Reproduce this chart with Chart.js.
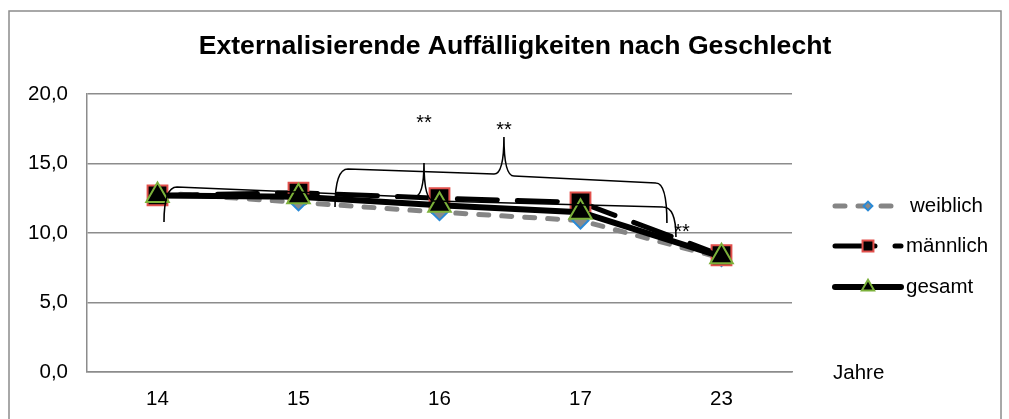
<!DOCTYPE html>
<html>
<head>
<meta charset="utf-8">
<script src="https://cdn.jsdelivr.net/npm/chart.js@4.4.1/dist/chart.umd.min.js"></script>
<style>
  html, body { margin: 0; padding: 0; background: #fff; }
  canvas { display: block; }
</style>
</head>
<body>
<canvas id="chart" width="1009" height="419"></canvas>
<script>
// Daten
const categories = ['14', '15', '16', '17', '23'];
const weiblich = [12.9, 12.2, 11.5, 10.9, 8.2];
const maennlich = [12.7, 12.9, 12.5, 12.2, 8.4];
const gesamt = [12.7, 12.6, 12.0, 11.5, 8.3];
const yTicks = [0, 5, 10, 15, 20];
const seriesNames = ['weiblich', 'männlich', 'gesamt'];

// Klammern mit Signifikanz (Kategorie-Index, Wert)
const braces = [
    [[0.046, 10.79], [0.138, 13.31], [1.819, 12.59], [1.890, 15.04], [1.961, 12.30], [3.585, 11.87], [3.677, 9.71]],
    [[1.259, 11.87], [1.351, 14.60], [2.387, 14.24], [2.457, 16.91], [2.528, 14.10], [3.535, 13.60], [3.613, 10.72]]
];
const stars = [[1.890, 17.91], [2.457, 17.41], [3.720, 10.07]];

const FONT = '"Liberation Sans", Arial, sans-serif';
const TXT = 20.5;
const GRID = '#8c8c8c';
const BLUE = '#2a8ad6';
const RED = '#e2504c';
const GREEN = '#7cb13a';
const GRAY_LINE = '#858585';

const styles = [
    { line: GRAY_LINE, width: 5, dash: [10, 13], point: 'rectRot', radius: 8, bg: '#8a8a8a', border: BLUE },
    { line: '#000', width: 5, dash: [40, 20], point: 'rect', radius: 14, bg: '#000', border: RED },
    { line: '#000', width: 6, dash: [], point: 'triangle', radius: 13, bg: '#000', border: GREEN }
];

const extras = {
    id: 'extras',
    beforeDraw(chart) {
        const ctx = chart.ctx;
        ctx.save();
        ctx.fillStyle = '#fff';
        ctx.fillRect(0, 0, chart.width, chart.height);
        ctx.strokeStyle = GRID;
        ctx.lineWidth = 1.5;
        ctx.strokeRect(9, 11, 992, 420);
        ctx.restore();
    },
    afterDatasetsDraw(chart) {
        const ctx = chart.ctx;
        const xs = chart.scales.x, ys = chart.scales.y;
        const P = p => [xs.getPixelForValue(p[0]), ys.getPixelForValue(p[1])];
        ctx.save();
        ctx.strokeStyle = '#000';
        ctx.lineWidth = 1.6;
        braces.forEach(b => {
            const p = b.map(P);
            ctx.beginPath();
            ctx.moveTo(p[0][0], p[0][1]);
            ctx.quadraticCurveTo(p[0][0], p[1][1], p[1][0], p[1][1]);
            ctx.lineTo(p[2][0], p[2][1]);
            ctx.quadraticCurveTo(p[3][0], p[2][1], p[3][0], p[3][1]);
            ctx.quadraticCurveTo(p[3][0], p[4][1], p[4][0], p[4][1]);
            ctx.lineTo(p[5][0], p[5][1]);
            ctx.quadraticCurveTo(p[6][0], p[5][1], p[6][0], p[6][1]);
            ctx.stroke();
        });
        ctx.fillStyle = '#000';
        ctx.font = '20px ' + FONT;
        ctx.textAlign = 'center';
        ctx.textBaseline = 'middle';
        stars.forEach(s => {
            const p = P(s);
            ctx.fillText('**', p[0], p[1]);
        });
        ctx.restore();
    },
    afterDraw(chart) {
        const ctx = chart.ctx;
        ctx.save();
        // Titel
        ctx.fillStyle = '#000';
        ctx.font = 'bold 26.6px ' + FONT;
        ctx.textAlign = 'center';
        ctx.textBaseline = 'middle';
        ctx.fillText('Externalisierende Auffälligkeiten nach Geschlecht', 515, 47);

        // Achsentitel
        ctx.font = TXT + 'px ' + FONT;
        ctx.textAlign = 'left';
        ctx.fillText('Jahre', 833, 373);

        // Legende
        const ly = [206, 246, 287];
        styles.forEach((s, i) => {
            const y = ly[i];
            ctx.strokeStyle = s.line;
            ctx.lineWidth = s.width;
            ctx.lineCap = 'round';
            ctx.setLineDash(s.dash);
            ctx.beginPath();
            ctx.moveTo(835, y);
            ctx.lineTo(901, y);
            ctx.stroke();
            ctx.setLineDash([]);
            ctx.fillStyle = s.bg;
            ctx.strokeStyle = s.border;
            ctx.lineWidth = 2;
            Chart.helpers.drawPoint(ctx, {
                pointStyle: s.point,
                radius: s.radius * 0.55,
                rotation: 0,
                borderWidth: 2
            }, 868, y);
            ctx.fillStyle = '#000';
            ctx.font = TXT + 'px ' + FONT;
            ctx.textBaseline = 'middle';
            ctx.fillText(seriesNames[i], i === 0 ? 910 : 906, y);
        });
        ctx.restore();
    }
};

const seriesData = [weiblich, maennlich, gesamt];

new Chart(document.getElementById('chart'), {
    type: 'line',
    data: {
        labels: categories,
        datasets: seriesData.map((d, i) => ({
            label: seriesNames[i],
            data: d,
            order: 3 - i,
            borderColor: styles[i].line,
            borderWidth: styles[i].width,
            borderDash: styles[i].dash,
            borderCapStyle: 'round',
            borderJoinStyle: 'round',
            tension: 0,
            fill: false,
            pointStyle: styles[i].point,
            pointRadius: styles[i].radius,
            pointBackgroundColor: styles[i].bg,
            pointBorderColor: styles[i].border,
            pointBorderWidth: 2
        }))
    },
    options: {
        responsive: false,
        devicePixelRatio: 1,
        animation: false,
        layout: {
            padding: { left: 0, top: 94, right: 217, bottom: 0 }
        },
        scales: {
            x: {
                type: 'category',
                offset: true,
                grid: { display: false, drawTicks: false },
                border: { display: true, color: GRID, width: 1.5 },
                ticks: { color: '#000', font: { family: FONT, size: TXT }, padding: 15, maxRotation: 0 },
                afterFit(scale) { scale.height = 47; }
            },
            y: {
                min: 0,
                max: 20,
                afterBuildTicks(scale) { scale.ticks = yTicks.map(v => ({ value: v })); },
                grid: { color: GRID, lineWidth: 1.5, drawTicks: false },
                border: { display: true, color: GRID, width: 1.5 },
                ticks: {
                    color: '#000',
                    font: { family: FONT, size: TXT },
                    padding: 19,
                    callback: v => v.toFixed(1).replace('.', ',')
                },
                afterFit(scale) { scale.width = 87; }
            }
        },
        plugins: {
            legend: { display: false },
            tooltip: { enabled: false },
            title: { display: false }
        }
    },
    plugins: [extras]
});
</script>
</body>
</html>
